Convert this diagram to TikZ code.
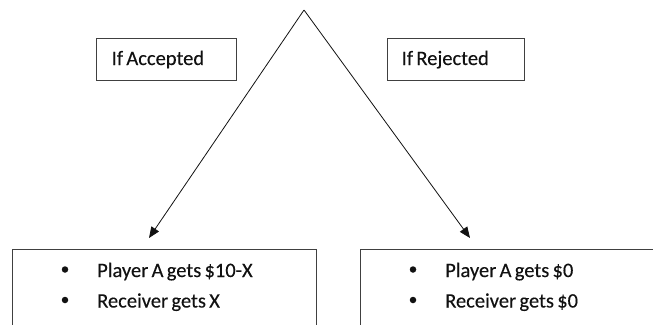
\documentclass[tikz,border=0pt]{standalone}
\usepackage{fontspec}
\setmainfont{Carlito}[FakeBold=0.25]
\usetikzlibrary{arrows.meta}
\definecolor{edge}{HTML}{404040}
\definecolor{ink}{HTML}{111111}
\newcommand{\diagfont}{\fontsize{20.5}{25}\selectfont\fontdimen2\font=3.3pt\relax}
\tikzset{
  labelbox/.style={draw=edge, line width=0.9pt, rectangle, anchor=north west,
    inner sep=0pt, minimum height=42pt},
  resultbox/.style={draw=edge, line width=0.9pt},
  branch/.style={draw=ink, line width=0.8pt, -{Triangle[length=11pt,width=9pt]}},
  item/.style={anchor=base west, inner sep=0pt, font=\diagfont, text=ink},
  dot/.style={circle, fill=ink, inner sep=0pt, minimum size=6.5pt}
}
\begin{document}
\begin{tikzpicture}[x=1pt,y=-1pt]
\useasboundingbox (0,0) rectangle (653,324);
\clip (0,0) rectangle (653,324);
\coordinate (apex) at (304,10);
\coordinate (tipA) at (149,238);
\coordinate (tipR) at (470,238);
\node[labelbox, minimum width=140pt] (acc) at (96,38) {};
\node[labelbox, minimum width=137pt] (rej) at (387,38) {};
\node[item] (accT) at (111.5,65) {If Accepted};
\node[item] (rejT) at (401.5,65) {If Rejected};
\draw[branch] (apex) -- (tipA);
\draw[branch] (apex) -- (tipR);
\draw[resultbox] (12,340) |- (316,249) -- (316,340);
\draw[resultbox] (360,340) |- (680,249);
\node[dot] (b1) at (65,269.5) {};
\node[dot] (b2) at (65,300) {};
\node[item] (t1) at (97,277) {Player A gets \$10-X};
\node[item] (t2) at (97,307.5) {Receiver gets X};
\node[dot] (b3) at (413,269.5) {};
\node[dot] (b4) at (413,300) {};
\node[item] (t3) at (445,277) {Player A gets \$0};
\node[item] (t4) at (445,307.5) {Receiver gets \$0};
\end{tikzpicture}
\end{document}
